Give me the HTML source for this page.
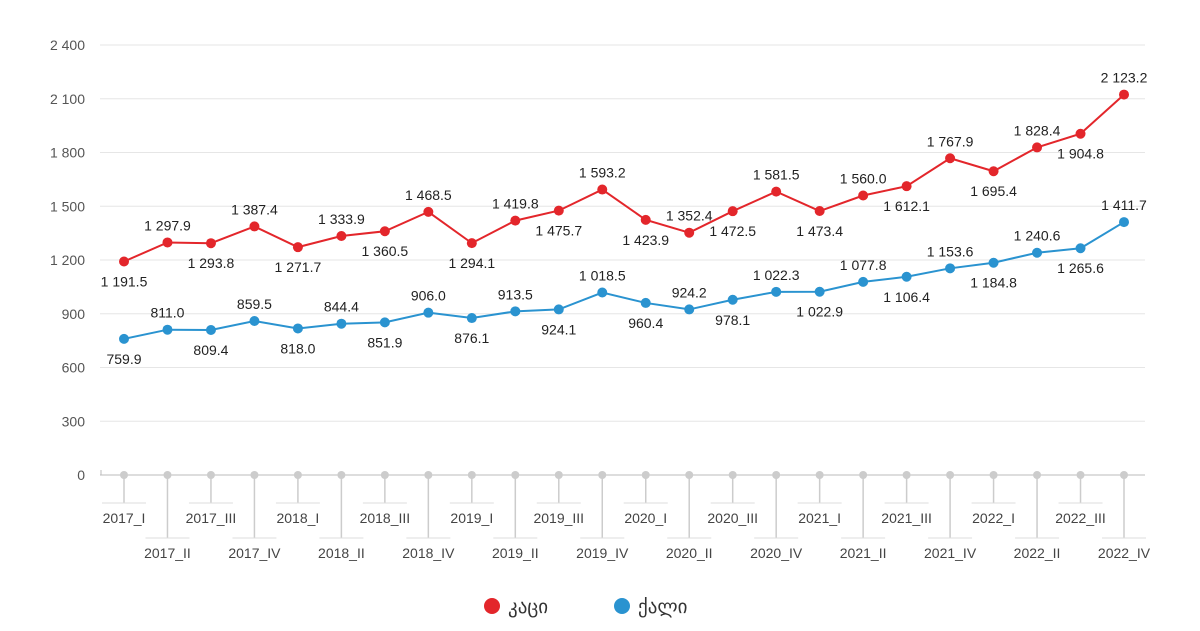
<!DOCTYPE html>
<html><head><meta charset="utf-8"><style>
body{margin:0;background:#fff;}
svg{display:block;font-family:"Liberation Sans","DejaVu Sans",sans-serif;}
</style></head><body>
<svg id="c" width="1200" height="631" xmlns="http://www.w3.org/2000/svg"></svg>
<script>
const m=[1191.5,1297.9,1293.8,1387.4,1271.7,1333.9,1360.5,1468.5,1294.1,1419.8,1475.7,1593.2,1423.9,1352.4,1472.5,1581.5,1473.4,1560.0,1612.1,1767.9,1695.4,1828.4,1904.8,2123.2];
const f=[759.9,811.0,809.4,859.5,818.0,844.4,851.9,906.0,876.1,913.5,924.1,1018.5,960.4,924.2,978.1,1022.3,1022.9,1077.8,1106.4,1153.6,1184.8,1240.6,1265.6,1411.7];
const q=["I","II","III","IV"];
const X=i=>124+i*1000/23, Y=v=>475-v*430/2400;
const fmt=v=>{let s=v.toFixed(1);let [a,b]=s.split(".");if(a.length>3)a=a.slice(0,a.length-3)+" "+a.slice(-3);return a+"."+b;};
let s="";
for(let k=0;k<=8;k++){let y=Y(k*300);
 s+=`<line x1="100" x2="1145" y1="${y}" y2="${y}" stroke="${k==0?'#bbb':'#e6e6e6'}" stroke-width="1"/>`;
 let t=String(k*300);if(t.length>3)t=t[0]+" "+t.slice(1);
 s+=`<text x="85" y="${y+5}" font-size="14" fill="#555" text-anchor="end">${t}</text>`;}
s+=`<line x1="101" x2="101" y1="470" y2="475" stroke="#bbb"/>`;
for(let i=0;i<24;i++){let x=X(i),top=i%2==0,ly=top?503:538;
 s+=`<line x1="${x}" x2="${x}" y1="475" y2="${ly}" stroke="#ccc" stroke-width="1.5"/>`;
 s+=`<line x1="${x-22}" x2="${x+22}" y1="${ly}" y2="${ly}" stroke="#ddd" stroke-width="1"/>`;
 s+=`<circle cx="${x}" cy="475" r="4" fill="#ccc"/>`;
 s+=`<text x="${x}" y="${ly+20}" font-size="14" fill="#444" text-anchor="middle">${2017+Math.floor(i/4)}_${q[i%4]}</text>`;}
function ser(d,c){let p=d.map((v,i)=>X(i)+","+Y(v)).join(" ");
 s+=`<polyline points="${p}" fill="none" stroke="${c}" stroke-width="2"/>`;
 d.forEach((v,i)=>{let x=X(i),y=Y(v);s+=`<circle cx="${x}" cy="${y}" r="5" fill="${c}"/>`;
 s+=`<text x="${x}" y="${i%2?y-12:y+25}" font-size="14" fill="#222" text-anchor="middle">${fmt(v)}</text>`;});}
ser(m,"#e3262b");ser(f,"#2a93d0");
s+=`<circle cx="492" cy="606" r="8" fill="#e3262b"/><text x="508" y="613" font-size="19" fill="#333" font-family="DejaVu Sans,sans-serif">კაცი</text>`;
s+=`<circle cx="622" cy="606" r="8" fill="#2a93d0"/><text x="638" y="613" font-size="19" fill="#333" font-family="DejaVu Sans,sans-serif">ქალი</text>`;
document.getElementById("c").innerHTML=s;
</script>
</body></html>
